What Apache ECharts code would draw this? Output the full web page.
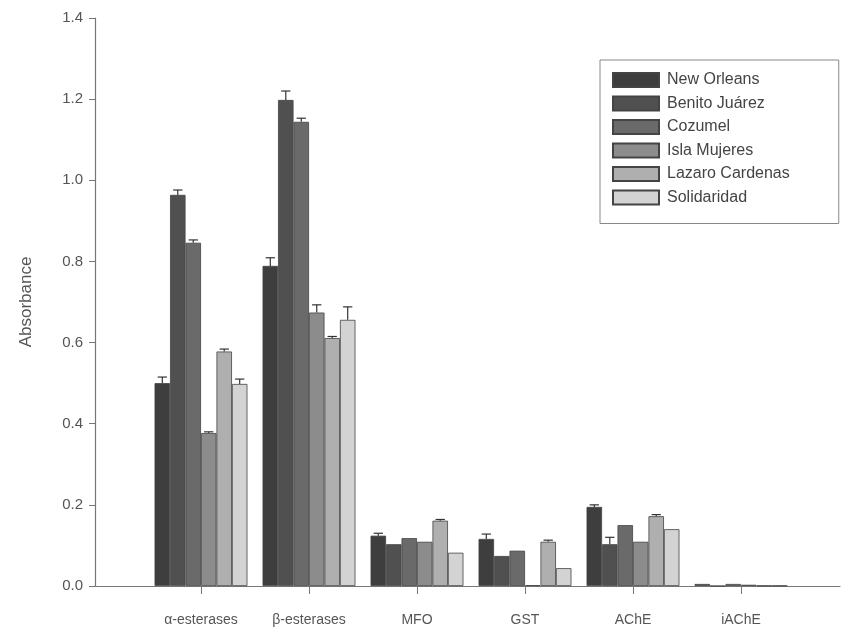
<!DOCTYPE html>
<html>
<head>
<meta charset="utf-8">
<script src="https://cdn.jsdelivr.net/npm/echarts@6/dist/echarts.min.js"></script>
<style>
  html, body { margin: 0; padding: 0; background: #fff; }
  #chart { width: 843px; height: 633px; }
</style>
</head>
<body>
<div id="chart"></div>
<script>
const categories = ['α-esterases', 'β-esterases', 'MFO', 'GST', 'AChE', 'iAChE'];
const sites = ['New Orleans', 'Benito Juárez', 'Cozumel', 'Isla Mujeres', 'Lazaro Cardenas', 'Solidaridad'];
const colors = ['#3e3e3e', '#505050', '#6a6a6a', '#8c8c8c', '#afafaf', '#d3d3d3'];

// mean absorbance per site, one value per category
const newOrleans     = [0.500, 0.789, 0.124, 0.116, 0.195, 0.005];
const benitoJuarez   = [0.964, 1.198, 0.103, 0.074, 0.103, 0.000];
const cozumel        = [0.846, 1.144, 0.118, 0.087, 0.150, 0.005];
const islaMujeres    = [0.377, 0.674, 0.109, 0.002, 0.109, 0.003];
const lazaroCardenas = [0.578, 0.611, 0.161, 0.109, 0.172, 0.001];
const solidaridad    = [0.498, 0.656, 0.082, 0.044, 0.140, 0.001];

// standard error (upper bar only)
const errNewOrleans     = [0.015, 0.020, 0.006, 0.012, 0.005, 0.000];
const errBenitoJuarez   = [0.012, 0.022, 0.000, 0.000, 0.017, 0.000];
const errCozumel        = [0.007, 0.009, 0.000, 0.000, 0.000, 0.000];
const errIslaMujeres    = [0.003, 0.019, 0.000, 0.000, 0.000, 0.000];
const errLazaroCardenas = [0.006, 0.004, 0.003, 0.004, 0.004, 0.000];
const errSolidaridad    = [0.012, 0.032, 0.000, 0.000, 0.000, 0.000];

const values = [newOrleans, benitoJuarez, cozumel, islaMujeres, lazaroCardenas, solidaridad];
const errors = [errNewOrleans, errBenitoJuarez, errCozumel, errIslaMujeres, errLazaroCardenas, errSolidaridad];

const font = '"Liberation Sans", Arial, sans-serif';
const catGap = 0.14;

const chart = echarts.init(document.getElementById('chart'), null, {renderer: 'canvas'});

const barSeries = sites.map((name, i) => ({
  name: name,
  type: 'bar',
  xAxisIndex: 1,
  yAxisIndex: 1,
  barGap: '0%',
  barCategoryGap: (catGap * 100) + '%',
  itemStyle: {color: colors[i], borderColor: '#444', borderWidth: 0.8},
  data: values[i],
}));

const errSeries = sites.map((name, i) => ({
  type: 'custom',
  xAxisIndex: 1,
  yAxisIndex: 1,
  silent: true,
  z: 3,
  data: values[i].map((v, c) => [c, v, errors[i][c]]),
  renderItem: (params, api) => {
    const c = api.value(0), v = api.value(1), e = api.value(2);
    if (!e) return;
    const band = api.size([1, 0])[0];
    const bw = band * (1 - catGap) / sites.length;
    const base = api.coord([c, v]);
    const top = api.coord([c, v + e]);
    const x = base[0] + (i - (sites.length - 1) / 2) * bw;
    const half = bw * 0.3;
    const style = {stroke: '#333', lineWidth: 1.2};
    return {
      type: 'group',
      children: [
        {type: 'line', shape: {x1: x, y1: base[1], x2: x, y2: top[1]}, style: style},
        {type: 'line', shape: {x1: x - half, y1: top[1], x2: x + half, y2: top[1]}, style: style},
      ],
    };
  },
}));

chart.setOption({
  animation: false,
  textStyle: {fontFamily: font},
  grid: [
    {left: 95, right: 3, top: 18, bottom: 47},
    {left: 147, right: 48, top: 18, bottom: 47},
  ],
  legend: {
    data: sites,
    icon: 'rect',
    orient: 'vertical',
    left: 600,
    top: 60,
    width: 220,
    padding: [12, 49, 18, 12],
    itemWidth: 46,
    itemHeight: 14,
    itemGap: 7.5,
    borderColor: '#888',
    borderWidth: 1,
    textStyle: {fontSize: 16, color: '#444', fontFamily: font, padding: [0, 0, 0, 3]},
  },
  xAxis: [
    {
      gridIndex: 0,
      type: 'value',
      min: 0,
      max: 1,
      axisLine: {lineStyle: {color: '#777', width: 1.2}},
      axisTick: {show: false},
      axisLabel: {show: false},
      splitLine: {show: false},
    },
    {
      gridIndex: 1,
      type: 'category',
      data: categories,
      axisLine: {show: false},
      axisTick: {show: true, alignWithLabel: true, length: 8, lineStyle: {color: '#777'}},
      axisLabel: {fontSize: 14, color: '#555', margin: 27, fontFamily: font},
    },
  ],
  yAxis: [
    {
      gridIndex: 0,
      type: 'value',
      min: 0,
      max: 1.4,
      interval: 0.2,
      name: 'Absorbance',
      nameLocation: 'middle',
      nameGap: 60,
      nameTextStyle: {fontSize: 17, color: '#555', fontFamily: font},
      axisLine: {show: true, lineStyle: {color: '#777', width: 1.2}},
      axisTick: {show: true, length: 6, lineStyle: {color: '#777'}},
      axisLabel: {fontSize: 15, color: '#555', margin: 12, formatter: v => v.toFixed(1), fontFamily: font},
      splitLine: {show: false},
    },
    {
      gridIndex: 1,
      type: 'value',
      min: 0,
      max: 1.4,
      interval: 0.2,
      show: false,
      splitLine: {show: false},
    },
  ],
  series: [...barSeries, ...errSeries],
});
</script>
</body>
</html>
